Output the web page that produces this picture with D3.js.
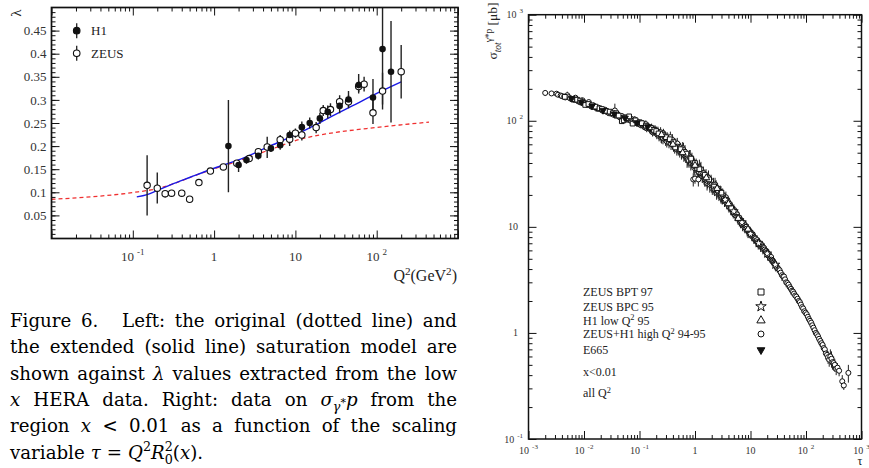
<!DOCTYPE html>
<html>
<head>
<meta charset="utf-8">
<script src="https://cdn.jsdelivr.net/npm/d3@7/dist/d3.min.js"></script>
<style>
body { margin: 0; background: #fff; }
svg { display: block; }
</style>
</head>
<body>
<svg id="fig" width="869" height="468"></svg>
<script>
var serif = '"Liberation Serif", "DejaVu Serif", serif';
var capFont = '"DejaVu Serif", "Liberation Serif", serif';

// left panel: lambda vs Q2  [Q2, lambda, err down, err up]
var h1_pts = [
    [1.5,0.200,0.100,0.100],[2.0,0.159,0.015,0.008],[2.5,0.170,0.008,0.008],[3.5,0.179,0.008,0.008],
    [5.0,0.195,0.008,0.008],[6.5,0.202,0.010,0.010],[8.5,0.224,0.010,0.010],[12,0.241,0.012,0.012],
    [15,0.250,0.012,0.012],[20,0.260,0.012,0.012],[25,0.274,0.014,0.014],[35,0.287,0.016,0.016],
    [45,0.301,0.016,0.018],[60,0.332,0.018,0.024],[90,0.305,0.038,0.040],[118,0.410,0.120,0.120],
    [150,0.361,0.110,0.110]
];
var zeus_pts = [
    [0.15,0.115,0.065,0.065],[0.2,0.109,0.033,0.034],[0.25,0.097,0.008,0.004],[0.3,0.098,0.004,0.004],
    [0.4,0.098,0.004,0.004],[0.5,0.085,0.004,0.004],[0.65,0.121,0.004,0.004],[0.9,0.146,0.006,0.006],
    [1.3,0.155,0.006,0.006],[1.9,0.163,0.006,0.006],[2.7,0.173,0.006,0.006],[3.5,0.188,0.008,0.008],
    [4.5,0.198,0.024,0.022],[6.5,0.214,0.010,0.010],[8.5,0.215,0.015,0.012],[10,0.228,0.010,0.010],
    [12,0.224,0.012,0.012],[18,0.240,0.012,0.012],[22,0.277,0.012,0.012],[27,0.279,0.014,0.014],
    [35,0.296,0.014,0.014],[45,0.296,0.014,0.014],[60,0.329,0.012,0.012],[70,0.334,0.016,0.016],
    [90,0.272,0.024,0.030],[118,0.319,0.040,0.040],[200,0.361,0.058,0.058]
];
var blue_q2 = [0.112,0.15,0.2,0.3,0.5,1,2,5,11.4,20,50,121,200];
var blue_lam = [0.090,0.095,0.104,0.117,0.132,0.152,0.170,0.201,0.229,0.251,0.287,0.321,0.339];
var red_q2 = [0.01,0.03,0.1,0.2,0.3,0.5,1,2,5,11,25,75,200,440];
var red_lam = [0.085,0.090,0.0995,0.108,0.117,0.132,0.151,0.168,0.193,0.214,0.227,0.238,0.246,0.252];
var lam_ticks = [0.05,0.1,0.15,0.2,0.25,0.3,0.35,0.4,0.45];
var q2_labels = [[0.1,'10','-1'],[1,'1',''],[10,'10',''],[100,'10','2']];

// right panel: sigma vs tau  [tau, sigma, err]
var bpt97_pts = [
    [0.0045,168,6],[0.0062,160,6],[0.0075,158,6],[0.0085,155,5],[0.0095,150,6],[0.0105,141,5],[0.012,144,6],
    [0.014,140,5],[0.016,136,5],[0.019,131,5],[0.021,129,5],[0.025,124,4],[0.029,122,5],[0.033,118,5],
    [0.038,118,5],[0.042,112,5],[0.048,99,4],[0.052,101,4],[0.058,106,5],[0.065,110,5],[0.075,94,4],
    [0.085,101,5],[0.1,97,4],[0.11,95,5],[0.13,90,4],[0.16,86,5],[0.18,82,5],[0.2,80,4],[0.22,76,4],
    [0.26,74,5],[0.3,70,4],[0.35,67,5],[0.41,63,4],[0.44,56,4],[0.55,54,4],[0.7,49,3],[0.85,44,4],
    [1.0,40,3],[1.2,35,3],[1.5,31,3],[1.8,28,3],[2.2,24,2],[2.6,22,2],[3.0,21,2],[3.6,18,2],[4.5,15,1.5]
];
var bpc95_pts = [[2.5,23,2],[3.5,18,2],[5,14,1.5],[7,11,1],[10,8.6,0.8],[14,7.0,0.7],[20,5.6,0.5],[28,4.4,0.4]];
var h1low_pts = [[0.15,86,6],[0.25,74,6],[0.4,60,5],[0.6,50,5],[1,38,4],[1.6,29,3],[2.5,23,3],[4,16.5,2],[6,12,1.5],[9,9.5,1]];
var e665_pts = [[0.006,162,8],[0.009,150,8],[0.014,138,7],[0.022,125,7],[0.035,116,7],[0.055,106,7],[0.09,96,7],[0.14,88,8]];
var high_pts = [
    [0.0020,183,12],[0.0026,181,8],[0.0032,180,9],[0.0034,176,8],[0.0038,173,7],[0.0040,171,6],[0.0044,169,6],
    [0.0046,166,5],[0.0050,174,14],[0.0053,167,6],[0.0056,163,6],[0.0060,161,6],[0.0063,159,5],[0.0067,157,6],
    [0.0070,165,7],[0.0074,159,6],[0.0078,153,5],[0.0082,151,5],[0.0086,149,5],[0.0090,152,6],[0.0094,156,7],
    [0.0099,147,5],[0.0104,146,5],[0.0109,144,6],[0.0114,141,6],[0.0118,143,6],[0.0122,150,8],[0.0127,140,5],
    [0.0132,138,5],[0.0137,136,5],[0.0142,135,4],[0.0148,139,6],[0.0155,137,5],[0.0162,134,5],[0.0170,130,5],
    [0.0176,131,6],[0.0182,133,6],[0.0190,129,5],[0.020,128,5],[0.021,126,5],[0.022,124,5],[0.023,125,6],
    [0.024,127,6],[0.025,123,5],[0.026,121,5],[0.027,120,6],[0.028,118,4],[0.030,117,5],[0.031,120,6],
    [0.033,116,6],[0.034,114,5],[0.036,125,20],[0.037,112,5],[0.039,113,6],[0.040,116,7],[0.042,110,5],
    [0.044,108,5],[0.046,109,6],[0.048,111,5],[0.050,107,5],[0.052,106,4],[0.055,108,5],[0.057,104,5],
    [0.060,103,6],[0.062,107,6],[0.065,102,5],[0.068,101,5],[0.070,100,6],[0.072,104,6],[0.075,99,5],
    [0.080,98,6],[0.082,103,7],[0.086,98,6],[0.088,95,6],[0.090,96,5],[0.095,97,6],[0.098,93,6],[0.100,94,6],
    [0.105,91,6],[0.108,93,7],[0.110,92,5],[0.115,94,7],[0.118,90,7],[0.120,88,6],[0.125,87,6],[0.128,89,7],
    [0.130,93,8],[0.135,85,7],[0.138,89,7],[0.142,88,8],[0.145,86,6],[0.152,85,8],[0.156,83,8],[0.160,84,7],
    [0.165,86,8],[0.168,82,7],[0.172,78,7],[0.175,80,6],[0.180,81,8],[0.183,79,7],[0.190,83,8],[0.195,78,8],
    [0.200,80,8],[0.205,75,8],[0.210,77,7],[0.215,79,9],[0.220,74,7],[0.225,72,8],[0.230,75,6],[0.235,74,9],
    [0.240,78,9],[0.245,70,8],[0.250,71,10],[0.260,73,8],[0.265,69,9],[0.270,76,8],[0.280,72,9],[0.285,70,8],
    [0.295,66,8],[0.300,68,7],[0.310,64,8],[0.315,69,9],[0.325,67,9],[0.330,65,6],[0.340,63,8],[0.345,66,8],
    [0.360,70,9],[0.370,61,8],[0.380,64,8],[0.390,66,9],[0.400,62,7],[0.410,59,8],[0.420,61,8],[0.430,56,7],
    [0.440,58,6],[0.450,60,8],[0.460,57,7],[0.470,54,7],[0.480,61,8],[0.490,57,8],[0.500,55,8],[0.520,54,6],
    [0.530,52,7],[0.550,56,6],[0.570,50,7],[0.580,51,7],[0.600,55,8],[0.620,53,9],[0.630,48,7],[0.650,49,7],
    [0.660,51,8],[0.680,46,6],[0.700,47,7],[0.720,44,8],[0.740,45,7],[0.750,43,6],[0.780,42,6],[0.800,46,7],
    [0.820,45,8],[0.840,40,6],[0.860,42,6],[0.880,43,7],[0.900,40,5],[0.920,41,6],[0.930,28,4],[0.950,39,7],
    [0.970,36,5],[1.00,37,5],[1.00,28.5,3],[1.05,38,6],[1.08,36,5],[1.10,35,6],[1.15,33,5],[1.15,28,4],
    [1.18,33,5],[1.20,36,7],[1.25,34,6],[1.28,35,6],[1.30,32,4],[1.35,30,4],[1.38,31,5],[1.42,32,5],
    [1.45,30,5],[1.50,28,4],[1.52,29,5],[1.58,30,5],[1.60,28,4],[1.65,26,4],[1.68,27,4],[1.72,28,4],
    [1.75,29,5],[1.82,27,4],[1.85,25,4],[1.90,26,3],[1.95,27,4],[2.00,25,4],[2.05,23,3],[2.10,24,3],
    [2.15,25,4],[2.20,23,3],[2.25,22.5,3],[2.30,25,4],[2.35,24,3],[2.40,23.5,4],[2.45,21,3],[2.50,22,3],
    [2.55,23,3],[2.60,21.5,3],[2.70,20.5,3],[2.75,21,3],[2.85,21.5,3],[2.90,20,3],[2.95,19,2.5],[3.00,19.5,2.5],
    [3.10,18.7,2.5],[3.15,20,3],[3.25,19.8,2.5],[3.30,18.5,2],[3.40,17.6,2.2],[3.45,18,2.5],[3.55,18.4,2.2],
    [3.60,19,2.5],[3.70,16.8,2],[3.80,17,2.5],[3.90,17.4,2.2],[4.0,16.0,2],[4.1,15.6,2],[4.2,16.5,2],
    [4.3,15.8,2],[4.4,15.0,2],[4.5,14.6,1.8],[4.6,15.2,2],[4.7,14.9,1.8],[4.8,14.2,1.8],[4.9,13.7,1.7],
    [5.0,14.5,1.8],[5.2,13.9,1.7],[5.3,13.0,1.5],[5.4,12.8,1.5],[5.5,13.5,1.6],[5.7,13.1,1.6],[5.8,12.4,1.5],
    [6.0,11.9,1.4],[6.1,12.3,1.5],[6.3,12.1,1.5],[6.4,11.6,1.4],[6.6,11.0,1.3],[6.7,11.5,1.4],[6.9,11.3,1.4],
    [7.0,11.0,1.3],[7.2,10.4,1.3],[7.3,10.6,1.3],[7.5,10.8,1.3],[7.7,10.2,1.2],[7.9,9.9,1.2],[8.1,10.3,1.2],
    [8.3,10.0,1.2],[8.5,9.6,1.1],[8.7,9.2,1.1],[8.9,9.3,1.1],[9.1,9.5,1.1],[9.3,9.0,1.0],[9.5,8.8,1.0],
    [9.7,9.1,1.0],[10.0,8.9,1.0],[10.2,8.7,1.0],[10.5,8.3,0.9],[10.7,8.2,0.9],[11.0,8.4,0.9],[11.2,8.1,0.9],
    [11.5,7.8,0.9],[11.7,7.9,0.9],[12.0,7.9,0.9],[12.3,7.7,0.8],[12.6,7.4,0.8],[12.9,7.3,0.8],[13.2,7.5,0.8],
    [13.5,7.2,0.8],[13.8,6.9,0.8],[14.1,7.1,0.8],[14.5,7.0,0.8],[14.8,6.9,0.7],[15.2,6.5,0.7],[15.5,6.6,0.7],
    [16.0,6.7,0.7],[16.3,6.5,0.7],[16.7,6.2,0.7],[17.1,6.4,0.7],[17.6,6.3,0.7],[18.0,6.1,0.6],[18.5,5.9,0.6],
    [18.9,5.8,0.6],[19.3,5.9,0.6],[19.8,5.7,0.6],[20.3,5.4,0.6],[20.8,5.6,0.6],[21.3,5.5,0.6],[21.8,5.3,0.5],
    [22.4,5.1,0.5],[22.9,5.0,0.5],[23.5,5.2,0.5],[24.0,4.9,0.5],[24.6,4.8,0.5],[25.2,4.8,0.5],[25.8,4.7,0.5],
    [26.4,4.6,0.5],[27.0,4.5,0.5],[27.7,4.4,0.5],[28.4,4.3,0.5],[29.0,4.3,0.4],[30.5,4.1,0.4],[32.0,4.0,0.4],
    [33.5,3.9,0.4],[35.0,3.7,0.4],[36.8,3.5,0.4],[38.5,3.4,0.3],[40.2,3.4,0.3],[42.0,3.2,0.3],[44.0,3.0,0.3],
    [46.0,2.95,0.3],[48.5,2.85,0.3],[51.0,2.7,0.25],[53.5,2.6,0.3],[56.0,2.5,0.25],[58.5,2.45,0.25],
    [61.0,2.35,0.2],[64.0,2.25,0.2],[67.0,2.2,0.2],[70.5,2.1,0.2],[74.0,2.0,0.2],[77.5,1.95,0.2],[81.0,1.85,0.2],
    [85.0,1.75,0.2],[89.0,1.7,0.15],[93.5,1.6,0.15],[98.0,1.55,0.15],[103,1.5,0.15],[108,1.42,0.15],
    [113,1.35,0.15],[118,1.3,0.12],[124,1.25,0.12],[130,1.18,0.12],[136,1.12,0.12],[143,1.06,0.1],[150,1.0,0.1],
    [157,0.97,0.1],[165,0.93,0.1],[172,0.88,0.1],[181,0.84,0.1],[190,0.8,0.1],[199,0.77,0.1],[208,0.72,0.08],
    [218,0.7,0.08],[228,0.64,0.08],[239,0.62,0.08],[250,0.59,0.08],[262,0.56,0.08],[275,0.6,0.1],[288,0.57,0.1],
    [300,0.53,0.08],[315,0.52,0.08],[330,0.5,0.07],[350,0.46,0.06],[370,0.47,0.05],[395,0.44,0.05],
    [450,0.35,0.05],[480,0.32,0.03],[580,0.42,0.08]
];
var legend_names = ['ZEUS BPT 97', 'ZEUS BPC 95', 'H1 low Q{p:2} 95', 'ZEUS+H1 high Q{p:2} 94-95', 'E665'];
var note_lines = ['x<0.01', 'all Q{p:2}'];
var tau_labels = [[1e-3,'10','-3'],[1e-2,'10','-2'],[0.1,'10','-1'],[1,'1',''],[10,'10',''],[100,'10','2'],[1000,'10','3']];
var sig_labels = [[1000,'10','3'],[100,'10','2'],[10,'10',''],[1,'1',''],[0.1,'10','-1']];

// caption words; {i:..} italic, {b:..} subscript, {q:..} star, {p:..} sup, {z:..} sub under sup
var caption_lines = [
    ['Figure', '6.~', 'Left:', 'the', 'original', '(dotted', 'line)', 'and'],
    ['the', 'extended', '(solid', 'line)', 'saturation', 'model', 'are'],
    ['shown', 'against', '{i:λ}', 'values', 'extracted', 'from', 'the', 'low'],
    ['{i:x}', 'HERA', 'data.', 'Right:', 'data', 'on', '{i:σ}{b:γ}{q:*}{i:p}', 'from', 'the'],
    ['region', '{i:x}', '<', '0.01', 'as', 'a', 'function', 'of', 'the', 'scaling'],
    ['variable', '{i:τ}', '=', '{i:Q}{p:2}{i:R}{p:2}{z:0}{n:(}{i:x}{n:).}']
];

var svg = d3.select('#fig');
var defs = svg.append('defs');

// rich text: tspans with shifts
function richText(sel, str, size) {
    var re = /\{(\w):([^}]*)\}/g, m, parts = [], last = 0;
    while ((m = re.exec(str))) {
        if (m.index > last) parts.push(['n', str.slice(last, m.index)]);
        parts.push([m[1], m[2]]);
        last = re.lastIndex;
    }
    if (last < str.length) parts.push(['n', str.slice(last)]);
    var off = 0;
    parts.forEach(function (p) {
        var shift = 0, fs = size, it = false, dx = 0;
        if (p[0] == 'i') it = true;
        if (p[0] == 'b') { shift = size * 0.28; fs = size * 0.7; it = true; }
        if (p[0] == 'q') { shift = size * 0.02; fs = size * 0.6; }
        if (p[0] == 'p') { shift = -size * 0.4; fs = size * 0.7; }
        if (p[0] == 'z') { shift = size * 0.28; fs = size * 0.7; dx = -size * 0.45; }
        sel.append('tspan')
            .attr('dy', shift - off)
            .attr('dx', dx)
            .attr('font-size', fs)
            .attr('font-style', it ? 'italic' : 'normal')
            .text(p[1]);
        off = shift;
    });
    return sel;
}

function tickGroup(parent, axisFn, scale, vals, len, tx, ty) {
    parent.append('g')
        .attr('transform', 'translate(' + tx + ',' + ty + ')')
        .call(axisFn(scale).tickValues(vals).tickSize(-len).tickSizeOuter(0).tickFormat(''))
        .call(function (g) {
            g.select('.domain').remove();
            g.selectAll('line').attr('stroke', '#111').attr('stroke-width', 1);
        });
}

function logTicks(lo, hi) {
    var major = [], minor = [];
    for (var d = lo; d < hi * 1.01; d *= 10) {
        major.push(d);
        if (d < hi * 0.99) for (var k = 2; k <= 9; k++) minor.push(d * k);
    }
    return [major, minor];
}

// ---------------- left panel
var L = {x0: 51.5, x1: 458, y0: 7.5, y1: 238.5};
var xl = d3.scaleLog().domain([0.01, 1000]).range([L.x0, L.x1]);
var yl = d3.scaleLinear().domain([0, 0.5]).range([L.y1, L.y0]);

defs.append('clipPath').attr('id', 'clipL').append('rect')
    .attr('x', L.x0).attr('y', L.y0).attr('width', L.x1 - L.x0).attr('height', L.y1 - L.y0);

var gl = svg.append('g');
var qt = logTicks(0.01, 1000);
var lamMinor = d3.range(1, 50).map(function (i) { return i / 100; });
tickGroup(gl, d3.axisBottom, xl, qt[0], 8, 0, L.y1);
tickGroup(gl, d3.axisBottom, xl, qt[1], 4, 0, L.y1);
tickGroup(gl, d3.axisTop, xl, qt[0], 8, 0, L.y0);
tickGroup(gl, d3.axisTop, xl, qt[1], 4, 0, L.y0);
tickGroup(gl, d3.axisLeft, yl, lam_ticks, 8, L.x0, 0);
tickGroup(gl, d3.axisLeft, yl, lamMinor, 4, L.x0, 0);
tickGroup(gl, d3.axisRight, yl, lam_ticks, 8, L.x1, 0);
tickGroup(gl, d3.axisRight, yl, lamMinor, 4, L.x1, 0);

gl.append('g')
    .attr('transform', 'translate(' + L.x0 + ',0)')
    .call(d3.axisLeft(yl).tickValues(lam_ticks).tickSize(0).tickPadding(5).tickFormat(function (d) { return String(d); }))
    .call(function (g) {
        g.select('.domain').remove();
        g.selectAll('text').attr('font-family', serif).attr('font-size', 13).attr('fill', '#333');
    });

q2_labels.forEach(function (t) {
    var tx = gl.append('text').attr('x', xl(t[0])).attr('y', 261)
        .attr('text-anchor', 'middle').attr('font-family', serif).attr('font-size', 13).attr('fill', '#333');
    tx.append('tspan').text(t[1]);
    if (t[2]) tx.append('tspan').attr('dx', 3).attr('dy', -6).attr('font-size', 9).text(t[2]);
});

var ql = gl.append('text').attr('x', 457).attr('y', 281).attr('text-anchor', 'end')
    .attr('font-family', serif).attr('fill', '#222');
richText(ql, 'Q{p:2}{n:(GeV}{p:2}{n:)}', 16);

gl.append('text').attr('transform', 'translate(21,13) rotate(-90)')
    .attr('text-anchor', 'middle').attr('font-family', serif).attr('font-size', 15).attr('fill', '#222')
    .text('λ');

var lineL = d3.line()
    .x(function (d) { return xl(d[0]); })
    .y(function (d) { return yl(d[1]); })
    .curve(d3.curveMonotoneX);

var gd = gl.append('g').attr('clip-path', 'url(#clipL)');
gd.append('path').datum(d3.zip(red_q2, red_lam)).attr('d', lineL)
    .attr('fill', 'none').attr('stroke', '#f03030').attr('stroke-width', 1.3).attr('stroke-dasharray', '4,3');
gd.append('path').datum(d3.zip(blue_q2, blue_lam)).attr('d', lineL)
    .attr('fill', 'none').attr('stroke', '#1a1ae6').attr('stroke-width', 1.4);

[h1_pts, zeus_pts].forEach(function (pts) {
    gd.append('g').selectAll('line').data(pts).join('line')
        .attr('x1', function (d) { return xl(d[0]); })
        .attr('x2', function (d) { return xl(d[0]); })
        .attr('y1', function (d) { return yl(d[1] - d[2]); })
        .attr('y2', function (d) { return yl(d[1] + d[3]); })
        .attr('stroke', '#222').attr('stroke-width', 1.4);
});
gd.append('g').selectAll('circle').data(zeus_pts).join('circle')
    .attr('cx', function (d) { return xl(d[0]); })
    .attr('cy', function (d) { return yl(d[1]); })
    .attr('r', 3.2).attr('fill', '#fff').attr('stroke', '#111').attr('stroke-width', 1.1);
gd.append('g').selectAll('circle').data(h1_pts).join('circle')
    .attr('cx', function (d) { return xl(d[0]); })
    .attr('cy', function (d) { return yl(d[1]); })
    .attr('r', 3.3).attr('fill', '#111');

// legend
[['H1', '#111', 30.7], ['ZEUS', '#fff', 53.3]].forEach(function (e) {
    gl.append('line').attr('x1', 76.7).attr('x2', 76.7).attr('y1', e[2] - 7.5).attr('y2', e[2] + 7.5)
        .attr('stroke', '#222').attr('stroke-width', 1.3);
    gl.append('circle').attr('cx', 76.7).attr('cy', e[2]).attr('r', 3.3)
        .attr('fill', e[1]).attr('stroke', '#111').attr('stroke-width', 1.1);
    gl.append('text').attr('x', 91).attr('y', e[2] + 4.6).attr('font-family', serif)
        .attr('font-size', 13).attr('fill', '#222').text(e[0]);
});

gl.append('rect').attr('x', L.x0).attr('y', L.y0).attr('width', L.x1 - L.x0).attr('height', L.y1 - L.y0)
    .attr('fill', 'none').attr('stroke', '#111').attr('stroke-width', 1.7);

// ---------------- right panel
var R = {x0: 528.5, x1: 861.5, y0: 14.7, y1: 439};
var xr = d3.scaleLog().domain([1e-3, 1e3]).range([R.x0, R.x1]);
var yr = d3.scaleLog().domain([0.1, 1000]).range([R.y1, R.y0]);

defs.append('clipPath').attr('id', 'clipR').append('rect')
    .attr('x', R.x0).attr('y', R.y0).attr('width', R.x1 - R.x0).attr('height', R.y1 - R.y0);

var gr = svg.append('g');
var tt = logTicks(1e-3, 1e3), st = logTicks(0.1, 1000);
tickGroup(gr, d3.axisBottom, xr, tt[0], 8, 0, R.y1);
tickGroup(gr, d3.axisBottom, xr, tt[1], 4, 0, R.y1);
tickGroup(gr, d3.axisTop, xr, tt[0], 8, 0, R.y0);
tickGroup(gr, d3.axisTop, xr, tt[1], 4, 0, R.y0);
tickGroup(gr, d3.axisLeft, yr, st[0], 8, R.x0, 0);
tickGroup(gr, d3.axisLeft, yr, st[1], 4, R.x0, 0);
tickGroup(gr, d3.axisRight, yr, st[0], 8, R.x1, 0);
tickGroup(gr, d3.axisRight, yr, st[1], 4, R.x1, 0);

tau_labels.forEach(function (t) {
    var tx = gr.append('text').attr('x', xr(t[0])).attr('y', 454)
        .attr('text-anchor', 'middle').attr('font-family', serif).attr('font-size', 10).attr('fill', '#333');
    tx.append('tspan').text(t[1]);
    if (t[2]) tx.append('tspan').attr('dx', 3).attr('dy', -5).attr('font-size', 7).text(t[2]);
});
sig_labels.forEach(function (t) {
    var tx = gr.append('text').attr('x', t[2] ? 523 : 518).attr('y', yr(t[0]) + 3.5)
        .attr('text-anchor', 'end').attr('font-family', serif).attr('font-size', 10).attr('fill', '#333');
    tx.append('tspan').text(t[1]);
    if (t[2]) tx.append('tspan').attr('dx', 3).attr('dy', -5).attr('font-size', 7).text(t[2]);
});

var sl = gr.append('text').attr('transform', 'translate(497,31) rotate(-90)')
    .attr('text-anchor', 'middle').attr('font-family', serif).attr('fill', '#222');
richText(sl, 'σ{b:tot}{p:γ*p}{n: [μb]}', 13.5);
gr.append('text').attr('x', 860).attr('y', 465).attr('text-anchor', 'middle')
    .attr('font-family', serif).attr('font-size', 12).attr('fill', '#222').text('τ');

var sets = [
    {pts: high_pts, sym: d3.symbolCircle, size: 20, fill: '#fff', rot: 0},
    {pts: bpt97_pts, sym: d3.symbolSquare, size: 22, fill: '#fff', rot: 0},
    {pts: bpc95_pts, sym: d3.symbolStar, size: 24, fill: '#fff', rot: 0},
    {pts: h1low_pts, sym: d3.symbolTriangle, size: 20, fill: '#fff', rot: 0},
    {pts: e665_pts, sym: d3.symbolTriangle, size: 18, fill: '#111', rot: 180}
];
var gs = gr.append('g').attr('clip-path', 'url(#clipR)');
sets.forEach(function (s) {
    gs.append('g').selectAll('line').data(s.pts).join('line')
        .attr('x1', function (d) { return xr(d[0]); })
        .attr('x2', function (d) { return xr(d[0]); })
        .attr('y1', function (d) { return yr(d[1] - d[2]); })
        .attr('y2', function (d) { return yr(d[1] + d[2]); })
        .attr('stroke', '#222').attr('stroke-width', 1);
});
sets.forEach(function (s) {
    gs.append('g').selectAll('path').data(s.pts).join('path')
        .attr('d', d3.symbol().type(s.sym).size(s.size))
        .attr('transform', function (d) { return 'translate(' + xr(d[0]) + ',' + yr(d[1]) + ') rotate(' + s.rot + ')'; })
        .attr('fill', s.fill).attr('stroke', '#111').attr('stroke-width', 1);
});

// legend
var leg_y = [292, 306.5, 320.5, 334, 350];
var leg_size = [36, 34, 30, 28, 26];
var leg_sets = [sets[1], sets[2], sets[3], sets[0], sets[4]];
legend_names.forEach(function (name, i) {
    var tx = gr.append('text').attr('x', 583).attr('y', leg_y[i] + 4.3)
        .attr('font-family', serif).attr('fill', '#222');
    richText(tx, name, 12);
    gr.append('path')
        .attr('d', d3.symbol().type(leg_sets[i].sym).size(leg_size[i]))
        .attr('transform', 'translate(761,' + leg_y[i] + ') rotate(' + leg_sets[i].rot + ')')
        .attr('fill', leg_sets[i].fill).attr('stroke', '#111').attr('stroke-width', 1);
});
note_lines.forEach(function (name, i) {
    var tx = gr.append('text').attr('x', 583).attr('y', [372, 393][i] + 4.3)
        .attr('font-family', serif).attr('fill', '#222');
    richText(tx, name, 12);
});

gr.append('rect').attr('x', R.x0).attr('y', R.y0).attr('width', R.x1 - R.x0).attr('height', R.y1 - R.y0)
    .attr('fill', 'none').attr('stroke', '#111').attr('stroke-width', 1.5);

// ---------------- caption, justified
var cap_x0 = 10, cap_x1 = 457, cap_y0 = 327, cap_dy = 26.3, cap_fs = 18.2;
caption_lines.forEach(function (words, li) {
    var y = cap_y0 + li * cap_dy;
    var nodes = words.map(function (w) {
        var extra = 0;
        if (w.slice(-1) == '~') { w = w.slice(0, -1); extra = 14; }
        var t = svg.append('text').attr('x', 0).attr('y', y)
            .attr('font-family', capFont).attr('fill', '#000');
        richText(t, w, cap_fs);
        return {t: t, w: t.node().getComputedTextLength() + extra};
    });
    var total = d3.sum(nodes, function (n) { return n.w; });
    var gap = li == caption_lines.length - 1 ? 6 : (cap_x1 - cap_x0 - total) / (nodes.length - 1);
    var x = cap_x0;
    nodes.forEach(function (n) {
        n.t.attr('x', x);
        x += n.w + gap;
    });
});
</script>
</body>
</html>
